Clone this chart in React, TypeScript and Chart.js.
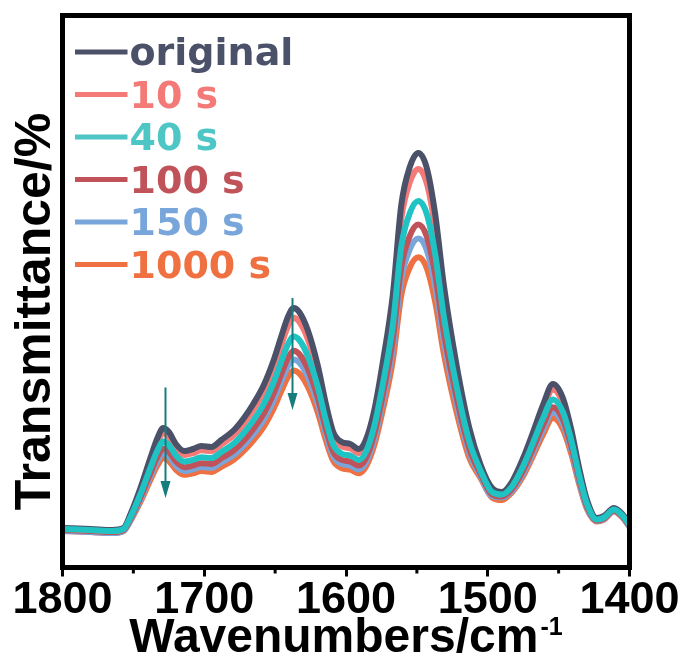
import React, { useEffect, useRef } from 'react';
import { Chart, registerables } from 'chart.js';

Chart.register(...registerables);

// Wavenumber grid (cm^-1)
const wavenumbers = [1800,1780,1765,1757,1752,1745,1738,1733,1729,1725,1720,1714,1708,1702,1695,1688,1679,1672,1665,1658,1651,1646,1641,1637,1633,1627,1620,1614,1609,1603,1597,1591,1586,1580,1574,1567,1561,1555,1549,1543,1537,1531,1522,1513,1505,1497,1490,1483,1475,1468,1461,1454,1447,1441,1436,1430,1423,1418,1411,1405,1400];

const original = [3.95,3.85,3.75,3.95,5.35,7.95,10.95,12.95,13.95,13.55,12.35,11.65,11.85,12.15,12.05,12.75,13.75,14.95,16.45,18.25,20.75,22.95,25.05,25.95,25.55,23.75,20.25,16.25,13.55,12.55,12.35,11.85,12.75,15.75,20.55,27.25,36.25,40.05,41.45,39.95,35.25,28.25,20.25,13.95,10.25,7.95,7.55,8.55,10.95,13.55,16.25,18.35,16.95,13.75,10.25,6.75,4.95,5.15,5.95,5.35,4.35];
const s10 = [3.85,3.75,3.65,3.85,5.19,7.69,10.57,12.49,13.45,13.07,11.91,11.24,11.43,11.72,11.63,12.3,13.26,14.41,15.85,17.58,19.98,22.09,24.11,24.97,24.59,22.86,19.5,15.66,13.07,12.11,11.91,11.43,12.3,15.18,19.79,26.22,34.86,38.51,39.85,38.41,33.9,27.18,19.5,13.45,10.0,7.75,7.4,8.34,10.63,13.14,15.76,17.79,16.43,13.34,9.95,6.56,4.85,5.05,5.85,5.25,4.25];
const s40 = [3.85,3.75,3.65,3.85,5.07,7.35,9.97,11.72,12.6,12.25,11.2,10.59,10.76,11.02,10.94,11.55,12.42,13.47,14.79,16.36,18.55,20.47,22.31,23.1,22.75,21.17,18.11,14.61,12.25,11.37,11.2,10.76,11.55,14.17,18.37,24.24,32.11,35.44,36.66,35.35,31.24,25.11,18.11,12.6,9.68,7.55,7.3,8.1,10.15,12.49,14.92,16.81,15.55,12.67,9.52,6.37,4.8,5.0,5.8,5.2,4.25];
const s100 = [3.75,3.65,3.55,3.75,4.89,7.01,9.45,11.08,11.9,11.57,10.6,10.03,10.19,10.43,10.35,10.92,11.74,12.71,13.94,15.4,17.44,19.23,20.95,21.68,21.35,19.89,17.03,13.77,11.57,10.76,10.6,10.19,10.92,13.37,17.28,22.74,30.07,33.17,34.31,33.09,29.26,23.55,17.03,11.9,9.35,7.31,7.1,7.84,9.71,11.93,14.23,16.02,14.83,12.1,9.12,6.14,4.7,4.9,5.7,5.1,4.15];
const s150 = [3.65,3.55,3.45,3.65,4.74,6.77,9.11,10.67,11.45,11.14,10.2,9.66,9.81,10.05,9.97,10.51,11.29,12.23,13.4,14.8,16.75,18.47,20.11,20.81,20.5,19.09,16.36,13.24,11.14,10.36,10.2,9.81,10.51,12.85,16.6,21.82,28.84,31.81,32.9,31.73,28.06,22.6,16.36,11.45,9.12,7.12,7.0,7.64,9.42,11.56,13.79,15.52,14.36,11.73,8.84,5.96,4.65,4.85,5.65,5.05,4.05];
const s1000 = [3.65,3.55,3.45,3.65,4.67,6.57,8.76,10.22,10.95,10.66,9.78,9.27,9.42,9.64,9.56,10.07,10.8,11.68,12.77,14.09,15.91,17.52,19.05,19.71,19.42,18.1,15.55,12.63,10.66,9.93,9.78,9.42,10.07,12.26,15.77,20.66,27.23,30.0,31.02,29.93,26.5,21.39,15.55,10.95,8.93,7.0,6.75,7.5,9.14,11.18,13.29,14.94,13.84,11.33,8.59,5.85,4.6,4.8,5.6,5.0,4.05];

const seriesLabels = ['original', '10 s', '40 s', '100 s', '150 s', '1000 s'];
const seriesValues = [original, s10, s40, s100, s150, s1000];
const seriesColors = ['#4a5169', '#f47a78', '#1fc3c3', '#c0525a', '#78a6da', '#ef7040'];
const legendTextColors = ['#4a5169', '#f47a78', '#4fc6c6', '#c0525a', '#78a6da', '#ef7040'];
const seriesOrder = [0, 0, -1, 0, 0, 0];

const xTickValues = [1800, 1700, 1600, 1500, 1400];
const minorTickValues = [1750, 1650, 1550, 1450];

// annotation arrows (wavenumber, start value, end value)
const arrowWavenumbers = [1728, 1638];
const arrowStart = [18.0, 26.95];
const arrowEnd = [6.95, 15.75];

const xTitle = 'Wavenumbers/cm';
const xTitleSup = '-1';
const yTitle = 'Transmittance/%';

const AXIS_FONT = '"Liberation Sans", Arial, sans-serif';
const LEGEND_FONT = '"DejaVu Sans", Verdana, sans-serif';

const decorPlugin = {
  id: 'decor',
  afterDatasetsDraw(chart: any) {
    const { ctx, scales } = chart;
    const x = scales.x;
    const y = scales.y;
    ctx.save();
    ctx.strokeStyle = '#167c7c';
    ctx.fillStyle = '#167c7c';
    ctx.lineWidth = 2;
    arrowWavenumbers.forEach((w, i) => {
      const px = Math.round(x.getPixelForValue(w)) + 0.5;
      const y0 = y.getPixelForValue(arrowStart[i]);
      const y1 = y.getPixelForValue(arrowEnd[i]);
      const head = 17;
      ctx.beginPath();
      ctx.moveTo(px, y0);
      ctx.lineTo(px, y1 - head + 2);
      ctx.stroke();
      ctx.beginPath();
      ctx.moveTo(px - 5, y1 - head);
      ctx.lineTo(px + 5, y1 - head);
      ctx.lineTo(px, y1);
      ctx.closePath();
      ctx.fill();
    });
    ctx.restore();
  },
  afterDraw(chart: any) {
    const { ctx, chartArea: a, scales } = chart;
    const x = scales.x;
    ctx.save();
    // frame
    ctx.strokeStyle = '#000';
    ctx.lineWidth = 5;
    ctx.strokeRect(a.left, a.top, a.right - a.left, a.bottom - a.top);
    // minor ticks
    ctx.lineWidth = 3;
    minorTickValues.forEach((v) => {
      const px = x.getPixelForValue(v);
      ctx.beginPath();
      ctx.moveTo(px, a.bottom);
      ctx.lineTo(px, a.bottom + 6);
      ctx.stroke();
    });
    // x title with superscript
    ctx.fillStyle = '#000';
    ctx.textBaseline = 'alphabetic';
    ctx.textAlign = 'left';
    const mainFont = `bold 48px ${AXIS_FONT}`;
    const supFont = `bold 25px ${AXIS_FONT}`;
    ctx.font = mainFont;
    const wMain = ctx.measureText(xTitle).width;
    ctx.font = supFont;
    const wSup = ctx.measureText(xTitleSup).width;
    const total = wMain + 2 + wSup;
    const cx = (a.left + a.right) / 2;
    const startX = cx - total / 2;
    const baseY = a.bottom + 84;
    ctx.font = mainFont;
    ctx.fillText(xTitle, startX, baseY);
    ctx.font = supFont;
    ctx.fillText(xTitleSup, startX + wMain + 2, baseY - 17);
    // y title
    ctx.save();
    ctx.translate(a.left - 12.5, (a.top + a.bottom) / 2 + 20);
    ctx.rotate(-Math.PI / 2);
    ctx.textAlign = 'center';
    ctx.font = `bold 50px ${AXIS_FONT}`;
    ctx.fillText(yTitle, 0, 0);
    ctx.restore();
    // legend
    ctx.font = `bold 38px ${LEGEND_FONT}`;
    ctx.textAlign = 'left';
    ctx.lineWidth = 5;
    seriesLabels.forEach((label, i) => {
      const base = a.top + 49.5 + i * 42.5;
      const ly = base - 13;
      ctx.strokeStyle = legendTextColors[i];
      ctx.beginPath();
      ctx.moveTo(a.left + 12.5, ly);
      ctx.lineTo(a.left + 65, ly);
      ctx.stroke();
      ctx.fillStyle = legendTextColors[i];
      ctx.fillText(label, a.left + 67, base);
    });
    ctx.restore();
  },
};

export default function App() {
  const canvasRef = useRef<HTMLCanvasElement | null>(null);

  useEffect(() => {
    const canvas = canvasRef.current;
    if (!canvas) return;
    const chart = new Chart(canvas, {
      type: 'line',
      data: {
        datasets: seriesLabels.map((label, i) => ({
          label,
          data: wavenumbers.map((w, j) => ({ x: w, y: seriesValues[i][j] })),
          borderColor: seriesColors[i],
          backgroundColor: seriesColors[i],
          borderWidth: 6,
          pointRadius: 0,
          cubicInterpolationMode: 'monotone' as const,
          fill: false,
          order: seriesOrder[i],
        })),
      },
      options: {
        animation: false,
        responsive: false,
        events: [],
        layout: { padding: { left: 62.5, right: 59.5, top: 15.5, bottom: 0 } },
        plugins: {
          legend: { display: false },
          tooltip: { enabled: false },
        },
        scales: {
          x: {
            type: 'linear',
            reverse: true,
            min: 1400,
            max: 1800,
            afterFit: (scale: any) => {
              scale.height = 98.5;
            },
            afterBuildTicks: (scale: any) => {
              scale.ticks = xTickValues.map((v) => ({ value: v }));
            },
            border: { display: false },
            grid: {
              display: true,
              drawOnChartArea: false,
              drawTicks: true,
              tickLength: 9,
              tickWidth: 3,
              tickColor: '#000',
            },
            ticks: {
              autoSkip: false,
              maxRotation: 0,
              minRotation: 0,
              padding: 2,
              color: '#000',
              font: { family: AXIS_FONT, size: 45, weight: 'bold', lineHeight: 1 },
              callback: (v: any) => String(v),
            },
          },
          y: {
            display: false,
            min: 0,
            max: 55.2,
          },
        },
      },
      plugins: [decorPlugin],
    } as any);
    return () => chart.destroy();
  }, []);

  return (
    <div style={{ position: 'fixed', left: 0, top: 0, width: 689, height: 666, background: '#fff' }}>
      <canvas ref={canvasRef} width={689} height={666} style={{ display: 'block' }} />
    </div>
  );
}
